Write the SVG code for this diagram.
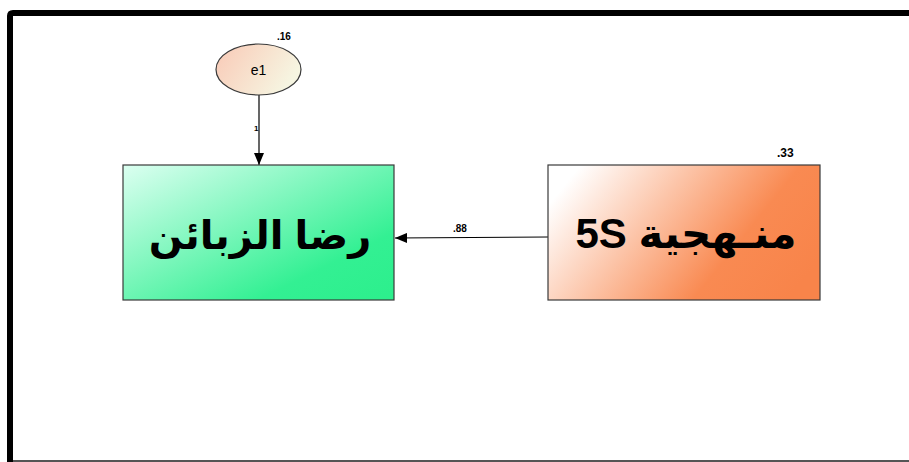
<svg xmlns="http://www.w3.org/2000/svg" width="909" height="462" viewBox="0 0 909 462">
  <style>
    .box { stroke: #3a3a3a; stroke-width: 1.2; }
    .conn { stroke: #000; stroke-width: 1.2; fill: none; }
    .lbl { font-family: "Liberation Sans", Arial, sans-serif; font-weight: bold; fill: #000; }
    .big { font-family: "Liberation Sans", "DejaVu Sans", sans-serif; font-weight: bold; font-size: 40px; fill: #000; }
  </style>
  <defs>
    <linearGradient id="gGreen" x1="0" y1="0" x2="1" y2="1">
      <stop offset="0" stop-color="#dcfff1"/>
      <stop offset="0.75" stop-color="#33f093"/>
      <stop offset="1" stop-color="#2cef8c"/>
    </linearGradient>
    <linearGradient id="gOrange" x1="0" y1="0.3" x2="1" y2="0.7">
      <stop offset="0" stop-color="#ffffff"/>
      <stop offset="0.7" stop-color="#f98a52"/>
      <stop offset="1" stop-color="#f8844a"/>
    </linearGradient>
    <linearGradient id="gErr" x1="0" y1="0" x2="1" y2="0.4">
      <stop offset="0" stop-color="#f9c9b6"/>
      <stop offset="1" stop-color="#f6f5e1"/>
    </linearGradient>
    <marker id="arrow" markerWidth="12" markerHeight="10" refX="12" refY="5" orient="auto" markerUnits="userSpaceOnUse">
      <path d="M0,0 L12,5 L0,10 Z" fill="#000"/>
    </marker>
  </defs>

  <!-- frame -->
  <rect width="909" height="462" fill="#ffffff"/>
  <path d="M10,462 L10,16 Q10,13 13,13 L909,13" fill="none" stroke="#000" stroke-width="6"/>
  <line x1="13" y1="461" x2="909" y2="461" stroke="#555" stroke-width="2"/>

  <!-- connectors -->
  <g id="connectors">
    <line class="conn" x1="259" y1="95" x2="259" y2="165" marker-end="url(#arrow)"/>
    <text class="lbl" x="254" y="131" font-size="8">1</text>
    <line class="conn" x1="548" y1="237" x2="395" y2="238" marker-end="url(#arrow)"/>
    <text class="lbl" x="453" y="232" font-size="10">.88</text>
  </g>

  <!-- error term -->
  <g id="e1">
    <ellipse cx="258.5" cy="69.5" rx="42.5" ry="25.5" fill="url(#gErr)" stroke="#3a3a3a" stroke-width="1.2"/>
    <text x="258.5" y="74.5" font-family="Liberation Sans, Arial, sans-serif" font-size="14" text-anchor="middle" fill="#000">e1</text>
    <text class="lbl" x="277" y="40" font-size="10">.16</text>
  </g>

  <!-- endogenous variable -->
  <g id="satisfaction">
    <rect class="box" x="123" y="165" width="271" height="135" fill="url(#gGreen)"/>
    <text class="big" x="260" y="249" text-anchor="middle" direction="rtl">رضا الزبائن</text>
  </g>

  <!-- exogenous variable -->
  <g id="method5s">
    <rect class="box" x="548" y="165" width="272" height="135" fill="url(#gOrange)"/>
    <text class="big" x="686" y="248" text-anchor="middle" direction="rtl" font-size="42" style="font-size:42px">منـهجية 5S</text>
    <text class="lbl" x="777" y="157" font-size="12">.33</text>
  </g>
</svg>
